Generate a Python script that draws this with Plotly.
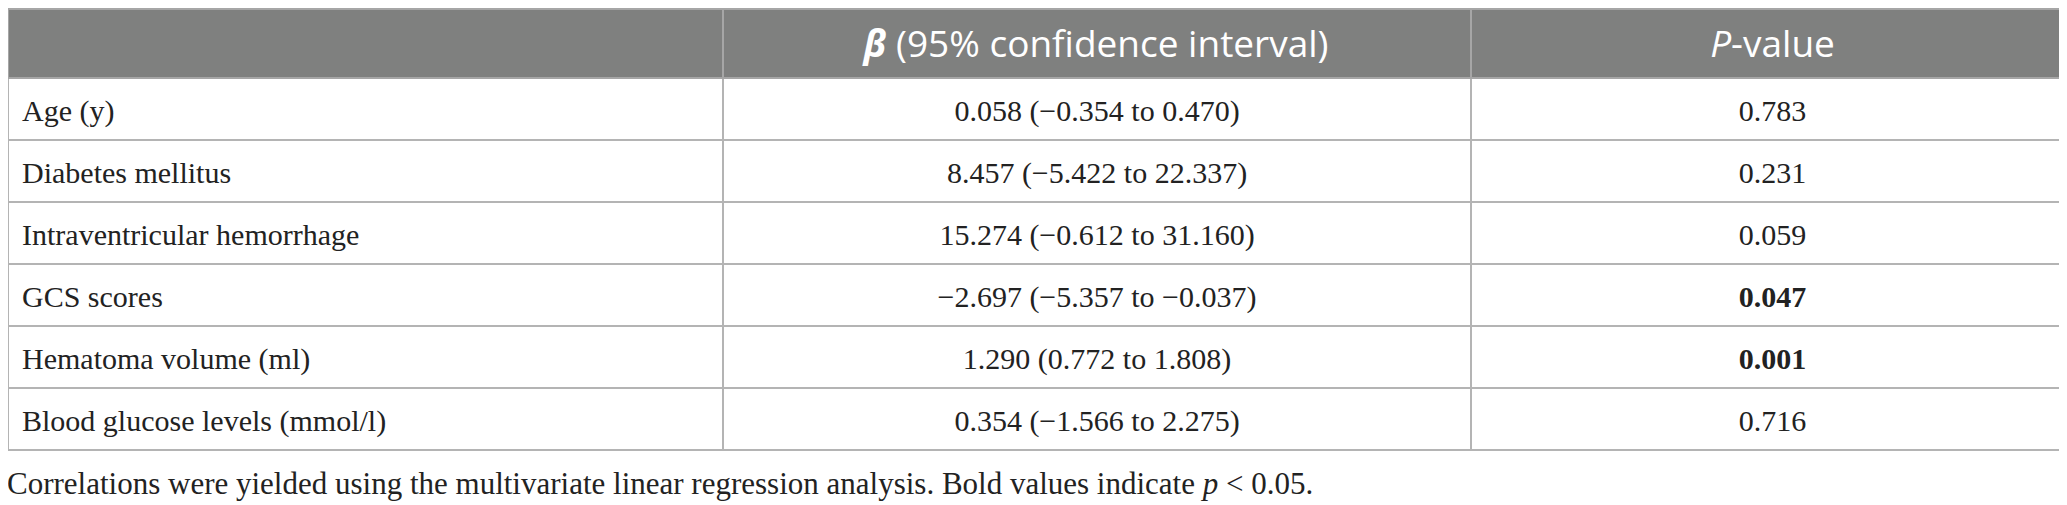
import plotly.graph_objects as go

# ---- data ----
variables = [
    "Age (y)",
    "Diabetes mellitus",
    "Intraventricular hemorrhage",
    "GCS scores",
    "Hematoma volume (ml)",
    "Blood glucose levels (mmol/l)",
]
beta = ["0.058", "8.457", "15.274", "\u22122.697", "1.290", "0.354"]
ci_low = ["\u22120.354", "\u22125.422", "\u22120.612", "\u22125.357", "0.772", "\u22121.566"]
ci_high = ["0.470", "22.337", "31.160", "\u22120.037", "1.808", "2.275"]
p_values = ["0.783", "0.231", "0.059", "0.047", "0.001", "0.716"]
header_labels = ["", "<b><i>\u03b2</i></b> (95% confidence interval)", "<i>P</i>-value"]
footnote = ("Correlations were yielded using the multivariate linear regression analysis. "
            "Bold values indicate <i>p</i> &lt; 0.05.")
alpha = 0.05

# ---- styles ----
LINE = "#b4b4b4"
HEAD = "#7f807f"
TEXT = "#222222"
BODY_PX = 30
HEAD_PX = 37
NBSP = "\u00a0"


def cell(text, lead=""):
    # an invisible first line pushes the visible text down to the middle of the row;
    # the <br> also stops the table from auto-wrapping the text
    return f"{NBSP}<br><span style='font-size:{BODY_PX}px'>{lead}{text}</span>"


ci_text = [f"{b} ({lo} to {hi})" for b, lo, hi in zip(beta, ci_low, ci_high)]
p_text = [f"<b>{p}</b>" if float(p) < alpha else p for p in p_values]

cols = [
    [cell(v, "\u2009") for v in variables],
    [cell(v) for v in ci_text],
    [cell(v) for v in p_text],
]

fig = go.Figure(go.Table(
    columnwidth=[715, 748, 603],
    header=dict(
        values=header_labels,
        fill_color=HEAD,
        line=dict(color="#a6a6a6", width=2),
        align=["left", "center", "center"],
        font=dict(family="Open Sans", size=HEAD_PX, color="white"),
        height=69,
    ),
    cells=dict(
        values=cols,
        fill_color="white",
        line=dict(color=LINE, width=2),
        align=["left", "center", "center"],
        font=dict(family="Liberation Serif", size=16, color=TEXT),
        height=62,
    ),
    domain=dict(x=[0, 1], y=[0, 1]),
))

fig.add_annotation(
    text=footnote, xref="paper", yref="paper", x=-0.0015, y=0.058,
    xanchor="left", yanchor="middle", showarrow=False, align="left",
    font=dict(family="Liberation Serif", size=31, color=TEXT),
)

fig.update_layout(
    width=2067, height=505,
    margin=dict(l=0, r=1, t=1, b=0),
    paper_bgcolor="white", plot_bgcolor="white",
)

fig.write_html("out.html")
